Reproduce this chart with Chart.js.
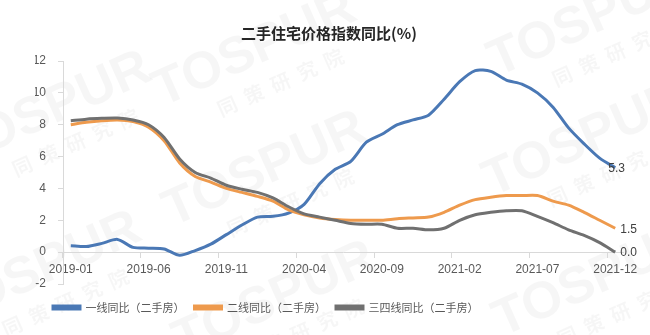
<!DOCTYPE html>
<html>
<head>
<meta charset="utf-8">
<script src="https://cdn.jsdelivr.net/npm/chart.js@4.4.1/dist/chart.umd.min.js"></script>
<style>
  body { margin: 0; background: #fff; }
  #wrap { width: 650px; height: 335px; position: relative; }
</style>
</head>
<body>
<div id="wrap"><canvas id="lineChart"></canvas></div>
<script>
var months = ["2019-01", "2019-02", "2019-03", "2019-04", "2019-05", "2019-06",
              "2019-07", "2019-08", "2019-09", "2019-10", "2019-11", "2019-12",
              "2020-01", "2020-02", "2020-03", "2020-04", "2020-05", "2020-06",
              "2020-07", "2020-08", "2020-09", "2020-10", "2020-11", "2020-12",
              "2021-01", "2021-02", "2021-03", "2021-04", "2021-05", "2021-06",
              "2021-07", "2021-08", "2021-09", "2021-10", "2021-11", "2021-12"];

var tier1 = [0.4, 0.35, 0.55, 0.8, 0.3, 0.25, 0.2, -0.2, 0.1, 0.5, 1.1, 1.7,
             2.2, 2.25, 2.45, 3.0, 4.3, 5.2, 5.7, 6.9, 7.4, 8.0, 8.3, 8.6,
             9.6, 10.7, 11.4, 11.35, 10.8, 10.55, 10.0, 9.1, 7.8, 6.8, 5.9, 5.3];
var tier2 = [8.0, 8.15, 8.25, 8.3, 8.2, 7.85, 7.0, 5.6, 4.75, 4.4, 4.0, 3.75,
             3.5, 3.2, 2.65, 2.35, 2.15, 2.05, 2.0, 2.0, 2.0, 2.1, 2.15, 2.2,
             2.5, 2.95, 3.3, 3.45, 3.55, 3.55, 3.55, 3.2, 2.95, 2.5, 2.0, 1.5];
var tier34 = [8.25, 8.35, 8.4, 8.42, 8.3, 8.0, 7.2, 5.85, 5.0, 4.65, 4.2, 3.95,
              3.75, 3.4, 2.85, 2.4, 2.2, 2.0, 1.8, 1.75, 1.75, 1.5, 1.5, 1.4,
              1.5, 2.0, 2.35, 2.5, 2.6, 2.6, 2.25, 1.85, 1.4, 1.05, 0.6, 0.0];

var seriesNames = ["一线同比（二手房）", "二线同比（二手房）", "三四线同比（二手房）"];
var seriesColors = ["#4a78b5", "#ee9a4d", "#707070"];
var endLabelShift = [-7, 5, 5];

var latin = "'Liberation Sans', 'Noto Sans CJK SC', sans-serif";
var cjk = "'Noto Sans CJK SC', 'Liberation Sans', sans-serif";

// faint TOSPUR watermark behind the chart
var watermark = {
    id: "watermark",
    beforeDraw: function(chart) {
        var c = chart.ctx;
        var spots = [[50, 110], [255, 50], [265, 170], [590, 20], [585, 140], [40, 270], [275, 300], [595, 280]];
        c.save();
        c.fillStyle = "rgba(0,0,0,0.035)";
        c.textAlign = "center";
        c.textBaseline = "middle";
        spots.forEach(function(p) {
            c.save();
            c.translate(p[0], p[1]);
            c.rotate(-0.42);
            c.font = "bold 52px 'Liberation Sans'";
            c.fillText("TOSPUR", 0, 0);
            c.font = "bold 20px 'Noto Sans CJK SC'";
            c.fillText("同  策  研  究  院", 10, 40);
            c.restore();
        });
        c.restore();
    }
};

// value at the end of each line
var endLabels = {
    id: "endLabels",
    afterDatasetsDraw: function(chart) {
        var c = chart.ctx;
        c.save();
        c.font = "12px " + latin;
        c.fillStyle = "#404040";
        c.textAlign = "left";
        c.textBaseline = "middle";
        chart.data.datasets.forEach(function(ds, i) {
            var meta = chart.getDatasetMeta(i);
            var last = meta.data[meta.data.length - 1];
            var v = ds.data[ds.data.length - 1];
            c.fillText(v.toFixed(1), last.x + endLabelShift[i], last.y + 1);
        });
        c.restore();
    }
};

// nudge the legend row a bit to the right, like the original
var legendNudge = {
    id: "legendNudge",
    afterLayout: function(chart) {
        if (chart.legend) chart.legend.left += 8;
    }
};

var lines = [tier1, tier2, tier34].map(function(vals, i) {
    return {
        label: seriesNames[i],
        data: vals,
        borderColor: seriesColors[i],
        backgroundColor: seriesColors[i],
        borderWidth: 3,
        pointRadius: 0,
        tension: 0.25,
        fill: false,
        order: 3 - i
    };
});

var chart = new Chart(document.getElementById("lineChart"), {
    type: "line",
    data: { labels: months, datasets: lines },
    options: {
        responsive: true,
        maintainAspectRatio: false,
        animation: false,
        layout: { padding: { left: 35, right: 27, top: 0, bottom: 12 } },
        plugins: {
            title: {
                display: true,
                text: "二手住宅价格指数同比(%)",
                color: "#262626",
                font: { family: cjk, size: 15, weight: "bold" },
                padding: { top: 24, bottom: 19 }
            },
            legend: {
                position: "bottom",
                align: "start",
                // empty title only pushes the row down a little
                title: { display: true, text: "", font: { size: 8, lineHeight: 1 }, padding: 0 },
                labels: {
                    boxWidth: 27,
                    boxHeight: 3,
                    padding: 10,
                    color: "#595959",
                    font: { family: cjk, size: 11 },
                    sort: function(a, b) { return a.datasetIndex - b.datasetIndex; }
                }
            },
            tooltip: { enabled: false }
        },
        scales: {
            x: {
                type: "category",
                offset: true,
                position: { y: 0 },
                border: { display: true, color: "#d9d9d9", width: 1 },
                grid: {
                    offset: true,
                    drawOnChartArea: false,
                    drawTicks: true,
                    tickLength: 5,
                    tickColor: function(ctx) {
                        return ctx.index % 5 === 0 ? "#d9d9d9" : "rgba(0,0,0,0)";
                    }
                },
                ticks: {
                    autoSkip: false,
                    maxRotation: 0,
                    padding: 5,
                    color: "#595959",
                    font: { family: latin, size: 12 },
                    callback: function(val, idx) {
                        return idx % 5 === 0 ? months[idx] : "";
                    }
                }
            },
            y: {
                min: -2,
                max: 12,
                border: { display: true, color: "#d9d9d9", width: 1 },
                grid: {
                    drawOnChartArea: false,
                    drawTicks: true,
                    tickLength: 5,
                    color: "#d9d9d9"
                },
                ticks: {
                    stepSize: 2,
                    padding: 12,
                    color: "#595959",
                    font: { family: latin, size: 12 }
                },
                afterFit: function(scale) { scale.width = 28; }
            }
        }
    },
    plugins: [watermark, endLabels, legendNudge]
});
</script>
</body>
</html>
